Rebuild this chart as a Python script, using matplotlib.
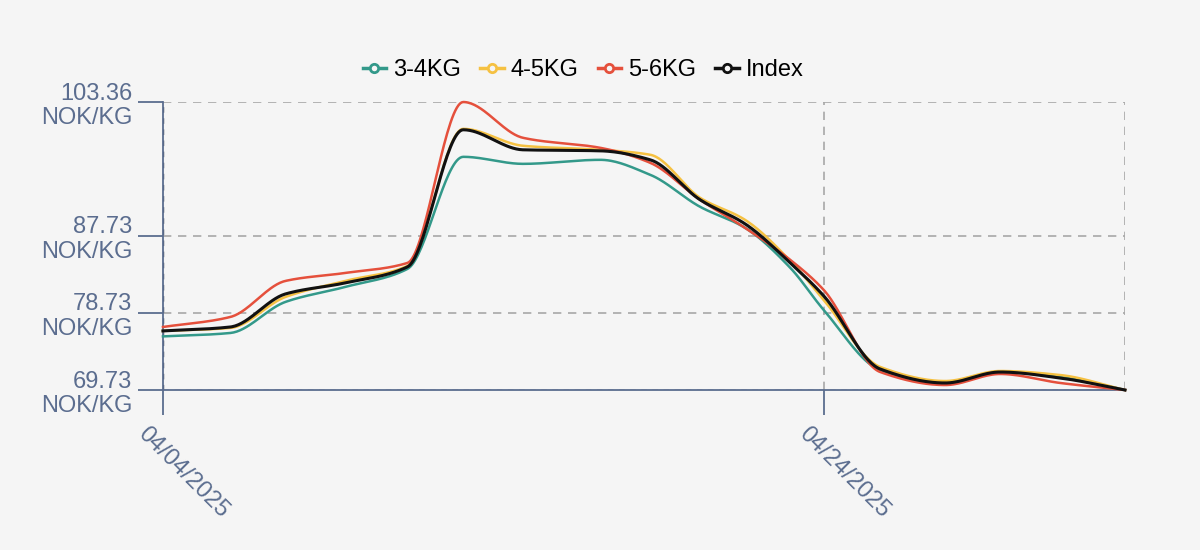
import matplotlib.pyplot as plt
import numpy as np

# day offsets from 04/04/2025
days = [0, 2.04, 3.71, 5.52, 7.4, 9.09, 10.9, 13.24, 14.75, 16.26, 17.62,
        18.99, 20.0, 21.71, 23.68, 25.34, 27.16, 29.12]

kg34 = [75.99, 76.39, 80.02, 81.77, 83.87, 96.96, 96.14, 96.61, 94.86, 91.12,
        88.67, 83.99, 79.08, 72.07, 70.55, 71.83, 71.25, 69.73]
kg45 = [76.63, 76.98, 80.60, 82.47, 84.22, 100.23, 98.25, 97.78, 97.20, 92.17,
        89.60, 84.81, 80.25, 72.42, 70.78, 71.95, 71.48, 69.73]
kg56 = [77.09, 78.26, 82.47, 83.40, 84.57, 103.36, 99.18, 98.01, 96.26, 91.94,
        88.66, 84.92, 81.42, 71.83, 70.31, 71.60, 70.55, 69.73]
index = [76.63, 77.09, 80.95, 82.24, 84.11, 100.12, 97.78, 97.66, 96.61, 91.94,
         89.13, 84.57, 80.72, 72.18, 70.55, 71.83, 71.13, 69.73]

series = [('3-4KG', kg34, '#33998a'), ('4-5KG', kg45, '#f5c142'),
          ('5-6KG', kg56, '#e5503c'), ('Index', index, '#111111')]

y_ticks = [69.73, 78.73, 87.73, 103.36]
x_ticks = [0, 20]
x_labels = ['04/04/2025', '04/24/2025']

bg = '#f5f5f5'
axis_col = '#5b6d8f'


def monotone(x, y, xs):
    # monotone cubic (Fritsch-Carlson) for a smooth curve through the points
    x = np.asarray(x, float)
    y = np.asarray(y, float)
    h = np.diff(x)
    d = np.diff(y) / h
    m = np.zeros(len(x))
    m[0], m[-1] = d[0], d[-1]
    for k in range(1, len(x) - 1):
        if d[k - 1] * d[k] > 0:
            w1 = 2 * h[k] + h[k - 1]
            w2 = h[k] + 2 * h[k - 1]
            m[k] = (w1 + w2) / (w1 / d[k - 1] + w2 / d[k])
    i = np.clip(np.searchsorted(x, xs) - 1, 0, len(x) - 2)
    t = (xs - x[i]) / h[i]
    h00 = 2 * t**3 - 3 * t**2 + 1
    h10 = t**3 - 2 * t**2 + t
    h01 = -2 * t**3 + 3 * t**2
    h11 = t**3 - t**2
    return h00 * y[i] + h10 * h[i] * m[i] + h01 * y[i + 1] + h11 * h[i] * m[i + 1]


plt.rcParams['font.family'] = ['Liberation Sans', 'DejaVu Sans']

fig = plt.figure(figsize=(12, 5.5), dpi=100, facecolor=bg)
ax = fig.add_axes([0.1358, 0.2909, 0.8017, 0.5236])
ax.set_facecolor(bg)

xs = np.linspace(days[0], days[-1], 600)
for name, vals, col in series:
    lw = 2.2 if name == 'Index' else 1.8
    ax.plot(xs, monotone(days, vals, xs), color=col, lw=lw, clip_on=False,
            zorder=4 if name == 'Index' else 3)
    ax.plot([], [], color=col, lw=2.5, marker='o', markersize=6,
            markerfacecolor=bg, markeredgewidth=2, label=name)

ax.set_xlim(0, days[-1])
ax.set_ylim(y_ticks[0], y_ticks[-1])

for yv in y_ticks[1:]:
    ax.axhline(yv, color='#a8a8a8', lw=1.2, ls=(0, (5, 4)), zorder=1)
ax.axvline(20, color='#a8a8a8', lw=1.2, ls=(0, (5, 4)), zorder=1)
ax.axvline(days[-1], color='#a8a8a8', lw=1.2, ls=(0, (5, 4)), zorder=1)

for s in ['top', 'right']:
    ax.spines[s].set_visible(False)
for s in ['left', 'bottom']:
    ax.spines[s].set_color(axis_col)
    ax.spines[s].set_linewidth(1.3)
ax.axhline(y_ticks[0], color='#333a48', lw=1, ls=(0, (4, 4)), zorder=2)
ax.axvline(0, color='#333a48', lw=1, ls=(0, (4, 4)), zorder=2)

ax.set_yticks(y_ticks)
ax.set_yticklabels([f'{v:.2f}\nNOK/KG' for v in y_ticks], linespacing=1.15)
ax.set_xticks(x_ticks)
ax.set_xticklabels(x_labels, rotation=-45, ha='left', va='top',
                   rotation_mode='anchor')
ax.tick_params(axis='both', colors=axis_col, labelsize=17, length=18,
               width=1.3, pad=4)
ax.tick_params(axis='x', pad=6)
for lab in ax.get_xticklabels():
    lab.set_transform(lab.get_transform() +
                      plt.matplotlib.transforms.ScaledTranslation(-0.14, 0, fig.dpi_scale_trans))

fig.legend(loc='center', bbox_to_anchor=(0.486, 0.873), ncol=4, frameon=False,
           fontsize=17, handlelength=1.0, handletextpad=0.3, columnspacing=0.8)

fig.savefig('out.png', dpi=100, facecolor=bg)
